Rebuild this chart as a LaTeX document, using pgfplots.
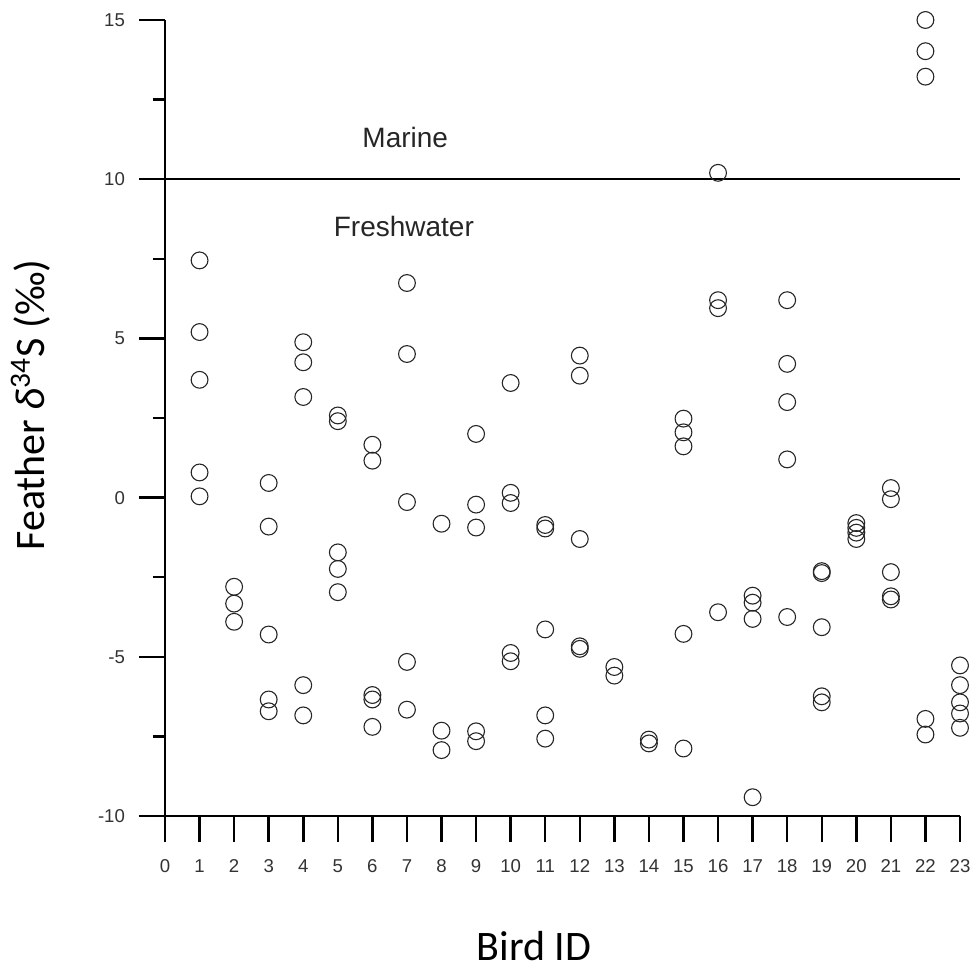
\documentclass[border=0pt]{standalone}
\usepackage{pgfplots}
\pgfplotsset{compat=1.18}
\usepackage{fontspec}
\setmainfont{Liberation Sans}
\newfontfamily\carlito{Carlito}
\begin{document}
\begin{tikzpicture}
\begin{axis}[
  scale only axis,
  width=397.5pt, height=398pt,
  xmin=0, xmax=23, ymin=-10, ymax=15,
  axis lines*=left,
  axis line style={line width=1.25pt, black},
  clip=false,
  xtick={0,...,23},
  ytick={-10,-5,...,15},
  minor ytick={-7.5,-2.5,2.5,7.5,12.5},
  tick align=outside,
  major tick length=13pt,
  minor tick length=6pt,
  every tick/.style={line width=1.25pt, black},
  tick label style={font=\fontsize{9.3}{11}\selectfont, text=black!80},
  xticklabel style={text height=6.8pt, text depth=0pt, yshift=-5pt},
  yticklabel style={xshift=-3.5pt},
  /pgf/number format/assume math mode=true,
  /pgf/number format/1000 sep={},
]
\addplot[black, line width=1.2pt, forget plot] coordinates {(0,10) (23,10)};
\addplot[only marks, mark=o, mark size=4.2pt, mark options={line width=0.55pt, draw=black!85}] table {
x y
1 7.45
1 5.2
1 3.7
1 0.79
1 0.04
2 -2.8
2 -3.33
2 -3.9
3 0.46
3 -0.91
3 -4.3
3 -6.34
3 -6.71
4 4.88
4 4.25
4 3.16
4 -5.89
4 -6.84
5 2.58
5 2.4
5 -1.72
5 -2.24
5 -2.97
6 1.66
6 1.16
6 -6.2
6 -6.34
6 -7.2
7 6.74
7 4.51
7 -0.14
7 -5.16
7 -6.66
8 -0.82
8 -7.32
8 -7.93
9 2.0
9 -0.22
9 -0.94
9 -7.34
9 -7.65
10 3.6
10 0.15
10 -0.17
10 -4.88
10 -5.14
11 -0.86
11 -0.97
11 -4.14
11 -6.84
11 -7.57
12 4.46
12 3.83
12 -1.3
12 -4.67
12 -4.75
13 -5.32
13 -5.59
14 -7.6
14 -7.72
15 2.48
15 2.05
15 1.61
15 -4.28
15 -7.88
16 10.2
16 6.2
16 5.95
16 -3.6
17 -3.08
17 -3.3
17 -3.81
17 -9.41
18 6.2
18 4.2
18 3.0
18 1.2
18 -3.75
19 -2.31
19 -2.37
19 -4.07
19 -6.24
19 -6.43
20 -0.8
20 -0.95
20 -1.1
20 -1.3
21 0.3
21 -0.05
21 -2.34
21 -3.1
21 -3.2
22 15.0
22 14.02
22 13.22
22 -6.95
22 -7.44
23 -5.27
23 -5.89
23 -6.43
23 -6.78
23 -7.23
};
\node[anchor=base, font=\fontsize{14}{16}\selectfont, text=black!85] at (axis cs:6.95,10.99) {Marine};
\node[anchor=base, font=\fontsize{14}{16}\selectfont, text=black!85] at (axis cs:6.91,8.19) {Freshwater};
\end{axis}
\node[anchor=base, font=\carlito\fontsize{21}{24}\selectfont] at (184.5pt,-72pt) {Bird ID};
\node[anchor=base, rotate=90, font=\carlito\fontsize{21}{24}\selectfont] at (-60pt,205.5pt) {Feather {\itshape δ}\textsuperscript{34}S (‰)};
\pgfresetboundingbox
\path (-82.5pt,-77pt) rectangle (406pt,408pt);
\end{tikzpicture}
\end{document}
